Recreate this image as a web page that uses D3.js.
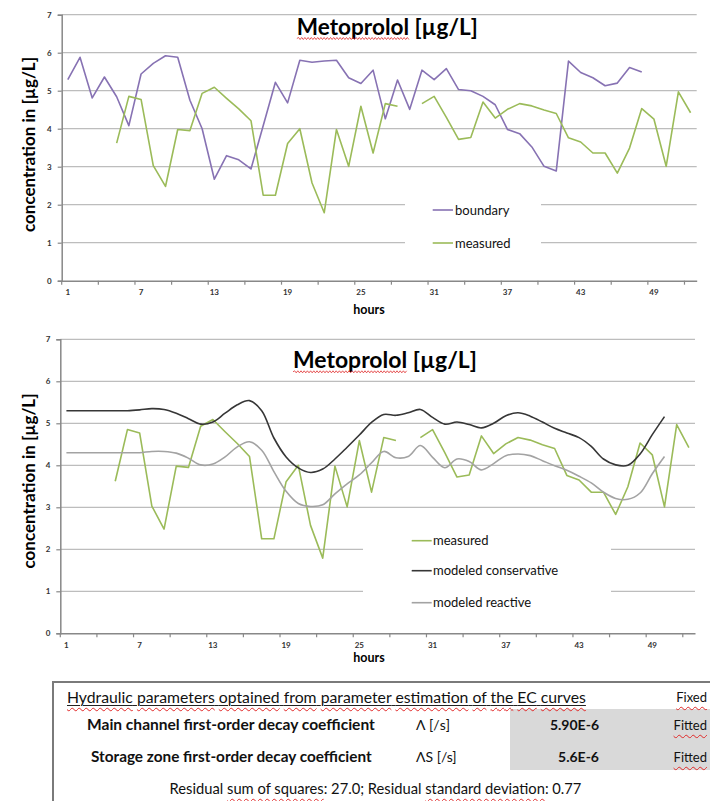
<!DOCTYPE html>
<html><head><meta charset="utf-8">
<script src="https://cdn.jsdelivr.net/npm/d3@7"></script>
<style>
body{margin:0;background:#fff;width:710px;height:801px;overflow:hidden;position:relative;font-family:Lato,"Open Sans",sans-serif}
svg{position:absolute;left:0;top:0}
.t{position:absolute;white-space:nowrap;line-height:1;color:#111}
.b{font-weight:bold}
.w{text-decoration:underline wavy #e02828;text-decoration-thickness:1px;text-underline-offset:4px}
.u{text-decoration:underline solid #222;text-decoration-thickness:1px;text-underline-offset:2px}
</style></head><body>
<svg id="chart" width="710" height="801"></svg>
<div id="table"></div>
<script>
// ---- data ----
const hours = [1,2,3,4,5,6,7,8,9,10,11,12,13,14,15,16,17,18,19,20,21,22,23,24,25,26,27,28,29,30,31,32,33,34,35,36,37,38,39,40,41,42,43,44,45,46,47,48,49,50,51,52];
const xTickLabels = [1,7,13,19,25,31,37,43,49];
const yTicks = [0,1,2,3,4,5,6,7];
const boundary = [5.29,5.88,4.81,5.36,4.84,4.08,5.44,5.72,5.92,5.88,4.75,4.0,2.67,3.29,3.18,2.94,4.08,5.22,4.68,5.80,5.75,5.78,5.80,5.34,5.19,5.54,4.26,5.28,4.51,5.54,5.29,5.58,5.03,5.0,4.85,4.63,3.98,3.87,3.52,3.01,2.89,5.78,5.48,5.34,5.13,5.2,5.61,5.49,null,null,null,null];
const measured = [null,null,null,null,3.62,4.85,4.77,3.03,2.48,3.98,3.95,4.93,5.09,4.8,4.52,4.21,2.25,2.25,3.61,4.0,2.57,1.79,3.98,3.01,4.59,3.36,4.66,4.59,null,4.66,4.85,4.3,3.72,3.77,4.7,4.28,4.51,4.66,4.6,4.49,4.4,3.76,3.65,3.36,3.36,2.83,3.49,4.53,4.25,3.01,4.97,4.42];
const conservative = [5.3,5.3,5.3,5.3,5.3,5.3,5.32,5.35,5.33,5.24,5.11,4.98,5.03,5.24,5.44,5.54,5.3,4.65,4.2,3.94,3.83,3.91,4.15,4.43,4.72,5.02,5.21,5.19,5.25,5.33,5.14,4.98,5.03,4.97,4.89,5.0,5.18,5.25,5.17,5.03,4.88,4.77,4.66,4.45,4.15,4.01,4.0,4.27,4.73,5.16,null,null];
const reactive = [4.3,4.3,4.3,4.3,4.3,4.3,4.3,4.33,4.33,4.29,4.17,4.01,4.03,4.2,4.44,4.56,4.36,3.85,3.38,3.09,3.02,3.06,3.32,3.56,3.77,4.06,4.33,4.18,4.21,4.47,4.19,3.94,4.15,4.09,3.89,4.04,4.23,4.27,4.23,4.11,3.99,3.88,3.74,3.58,3.36,3.21,3.19,3.34,3.8,4.21,null,null];
const titleText = "Metoprolol";
const titleUnit = " [µg/L]";
const yLabel = "concentration in [µg/L]";
const xLabel = "hours";

const svg = d3.select("#chart");

function fitText(sel, target){
  const n = sel.node(); const fs = parseFloat(sel.attr("font-size"));
  const w = n.getComputedTextLength();
  sel.attr("font-size", (fs*target/w).toFixed(2));
}
function squiggle(x0,x1,y){
  let p = `M${x0},${y}`; let up = true;
  for(let x=x0+1.6; x<=x1; x+=1.6){ p += `L${x.toFixed(1)},${(y+(up?-1:1)).toFixed(1)}`; up=!up; }
  return p;
}

function drawChart(cfg){
  const g = svg.append("g");
  const x = d3.scaleBand().domain(hours).range([cfg.left, cfg.right]).padding(0);
  const y = d3.scaleLinear().domain([0,7]).range([cfg.bottom, cfg.top]);
  const cx = d => x(d) + x.bandwidth()/2;

  // gridlines
  g.append("g").selectAll("line").data(yTicks.filter(v=>v>0)).join("line")
    .attr("x1", cfg.left).attr("x2", cfg.right).attr("y1", d=>y(d)).attr("y2", d=>y(d))
    .attr("stroke", "#bdbdbd").attr("stroke-width", 1.3);

  // legend background (covers gridlines)
  const L = cfg.legend;
  g.append("rect").attr("x", L.x0).attr("y", L.y0).attr("width", L.x1-L.x0).attr("height", L.y1-L.y0).attr("fill", "#fff");

  // y axis
  const ya = g.append("g").attr("transform", `translate(${cfg.left},0)`)
    .call(d3.axisLeft(y).tickValues(yTicks).tickSize(4).tickPadding(6).tickFormat(d3.format("d")));
  ya.select(".domain").attr("stroke", "#888").attr("stroke-width", 1.5);
  ya.selectAll(".tick line").attr("stroke", "#888").attr("stroke-width", 1.2);
  ya.selectAll("text").attr("font-size", 8).attr("font-weight", "bold").attr("fill", "#333").attr("font-family", "Lato, sans-serif");

  // x axis
  const xa = g.append("g").attr("transform", `translate(0,${cfg.bottom})`)
    .call(d3.axisBottom(x).tickValues(xTickLabels).tickSize(0).tickPadding(9));
  xa.select(".domain").attr("stroke", "#888").attr("stroke-width", 1.5);
  xa.selectAll("text").attr("font-size", 8).attr("font-weight", "bold").attr("fill", "#333").attr("font-family", "Lato, sans-serif");
  g.append("g").selectAll("line").data(hours.filter(h => (h-1)%3===0)).join("line")
    .attr("x1", d=>x(d)).attr("x2", d=>x(d)).attr("y1", cfg.bottom).attr("y2", cfg.bottom+4)
    .attr("stroke", "#888").attr("stroke-width", 1.2);

  // series
  cfg.series.forEach(s => {
    const line = d3.line().defined(d => d.v != null).x(d => cx(d.h)).y(d => y(d.v));
    if (s.smooth) line.curve(d3.curveCatmullRom.alpha(0.5));
    g.append("path").datum(hours.map((h,i)=>({h, v:s.data[i]})))
      .attr("d", line).attr("fill", "none").attr("stroke", s.color).attr("stroke-width", 1.6)
      .attr("stroke-linejoin", "round");
  });

  // legend items
  cfg.series.forEach((s,i) => {
    const yy = L.ys[i];
    g.append("line").attr("x1", L.lx0).attr("x2", L.lx1).attr("y1", yy).attr("y2", yy)
      .attr("stroke", s.color).attr("stroke-width", 1.6);
    g.append("text").attr("x", L.tx).attr("y", yy).attr("dy", "0.35em").attr("font-size", 13)
      .attr("fill", "#111").text(s.name);
  });

  // title
  const t = g.append("text").attr("x", cfg.titleCx).attr("y", cfg.titleY).attr("text-anchor", "middle")
    .attr("font-size", 22).attr("font-weight", "bold").attr("fill", "#000");
  const t1 = t.append("tspan").text(titleText);
  t.append("tspan").text(titleUnit);
  fitText(t, cfg.titleW);
  const tb = t.node().getBBox();
  const w1 = t1.node().getComputedTextLength();
  g.append("path").attr("d", squiggle(tb.x, tb.x + w1, cfg.titleY + 3.5)).attr("fill", "none")
    .attr("stroke", "#e02828").attr("stroke-width", 0.8);

  // y label
  const yl = g.append("text").attr("transform", `translate(28,${cfg.ylabelCy}) rotate(-90)`)
    .attr("text-anchor", "middle").attr("dominant-baseline", "central")
    .attr("font-size", 15).attr("font-weight", "bold").attr("fill", "#000").text(yLabel);
  fitText(yl, 175);

  // x label
  g.append("text").attr("x", cfg.hoursCx).attr("y", cfg.hoursY).attr("text-anchor", "middle")
    .attr("font-size", 12.5).attr("font-weight", "bold").attr("fill", "#000").text(xLabel);
}

drawChart({
  left: 61.7, right: 696.7, top: 14.7, bottom: 280.7,
  titleCx: 387.3, titleY: 35, titleW: 181, ylabelCy: 144.5, hoursCx: 369, hoursY: 314,
  series: [
    {name: "boundary", data: boundary, color: "#8772b3"},
    {name: "measured", data: measured, color: "#9bbb59"}
  ],
  legend: {x0: 405, x1: 541, y0: 193, y1: 258, ys: [210, 243], lx0: 432.7, lx1: 453, tx: 455}
});

drawChart({
  left: 60.3, right: 695, top: 339.3, bottom: 633.3,
  titleCx: 385, titleY: 368.3, titleW: 184, ylabelCy: 481, hoursCx: 369, hoursY: 662,
  series: [
    {name: "measured", data: measured, color: "#9bbb59"},
    {name: "modeled conservative", data: conservative, color: "#363636", smooth: true},
    {name: "modeled reactive", data: reactive, color: "#a3a3a3", smooth: true}
  ],
  legend: {x0: 363, x1: 611, y0: 525, y1: 618, ys: [540.7, 570.7, 602.7], lx0: 411.7, lx1: 431.7, tx: 433}
});

// ---- table ----
const tbl = d3.select("#table");
tbl.append("div").style("position","absolute").style("left","52px").style("top","681px")
  .style("width","720px").style("height","140px").style("border","2px solid #7a7a7a").style("box-sizing","border-box");
tbl.append("div").style("position","absolute").style("left","510px").style("top","709px")
  .style("width","210px").style("height","61px").style("background","#d9d9d9");

function place(html, cls, x, cy, anchor, targetW, fs){
  const d = tbl.append("div").attr("class", "t " + cls).style("font-size", fs + "px").html(html);
  const n = d.node();
  if (targetW){ const w = n.getBoundingClientRect().width; fs = fs*targetW/w; d.style("font-size", fs.toFixed(2)+"px"); }
  const r = n.getBoundingClientRect();
  let left = x;
  if (anchor === "end") left = x - r.width;
  if (anchor === "middle") left = x - r.width/2;
  d.style("left", left + "px").style("top", (cy - r.height/2) + "px");
}
const header = 'Hydraulic parameters optained from parameter estimation of the EC curves';
place('<span class="u">' + header.split(" ").map(w=>'<span class="w">'+w+'</span>').join(" ") + '</span>', "", 67, 697, "start", 519, 14);
place('<span class="w">Fixed</span>', "", 707, 697, "end", null, 13);
place('Main channel first-order decay coefficient', "b", 87, 725, "start", 288, 14);
place('Λ [/s]', "", 416, 725, "start", null, 14);
place('5.90E-6', "b", 599, 725, "end", null, 14);
place('<span class="w">Fitted</span>', "", 707, 725, "end", null, 13);
place('Storage zone first-order decay coefficient', "b", 91, 757, "start", 281, 14);
place('ΛS [/s]', "", 416, 757, "start", null, 14);
place('5.6E-6', "b", 599, 757, "end", null, 14);
place('<span class="w">Fitted</span>', "", 707, 757, "end", null, 13);
place('Residual <span class="w">sum of squares</span>: 27.0; Residual <span class="w">standard deviation</span>: 0.77', "", 375.5, 788, "middle", 412, 14);
</script>
</body></html>
